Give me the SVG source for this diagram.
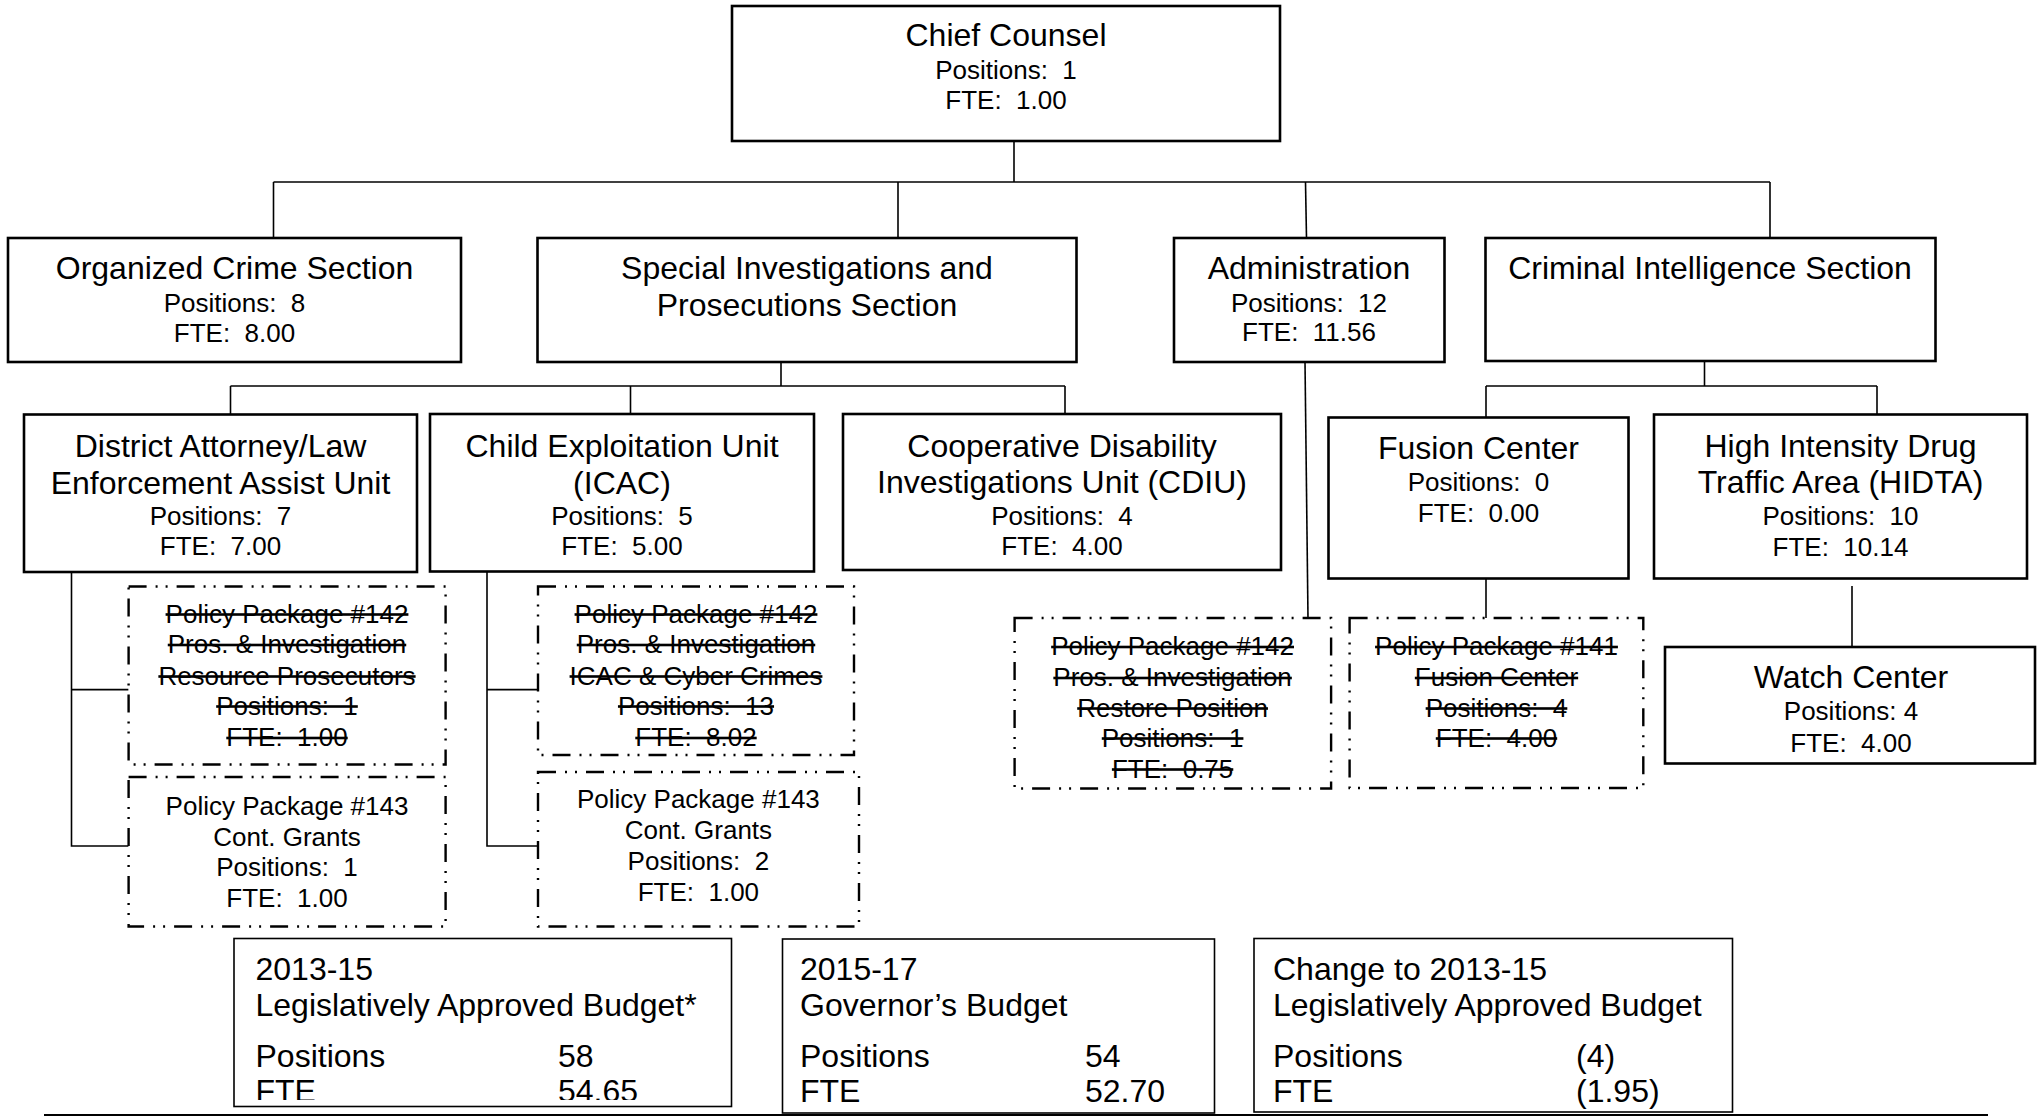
<svg xmlns="http://www.w3.org/2000/svg" width="2037" height="1117" viewBox="0 0 2037 1117" xml:space="preserve">
<style>
text { font-family: "Liberation Sans", Arial, sans-serif; fill: #000; white-space: pre; }
.t { font-size: 32px; text-anchor: middle; }
.d { font-size: 26px; text-anchor: middle; }
.s { text-decoration: line-through; }
.b { font-size: 32px; }
.box { fill: #fff; stroke: #000; stroke-width: 2.6; }
.dash { fill: #fff; stroke: #000; stroke-width: 2.4; stroke-dasharray: 18 9 2 8 2 9; }
.bud { fill: #fff; stroke: #000; stroke-width: 1.6; }
.conn line, .conn polyline { stroke: #000; stroke-width: 1.6; fill: none; }
</style>
<defs>
<clipPath id="clipB1"><rect x="234" y="938" width="498" height="162"/></clipPath>
</defs>
<rect x="0" y="0" width="2037" height="1117" fill="#fff"/>

<g id="connectors" class="conn">
<line x1="1014" y1="141" x2="1014" y2="182"/>
<line x1="273.5" y1="182" x2="1770" y2="182"/>
<line x1="273.5" y1="182" x2="273.5" y2="238"/>
<line x1="898" y1="182" x2="898" y2="238"/>
<line x1="1305.5" y1="182" x2="1306.5" y2="238"/>
<line x1="1770" y1="182" x2="1770" y2="238"/>
<line x1="781" y1="362" x2="781" y2="386"/>
<line x1="230.5" y1="386" x2="1065" y2="386"/>
<line x1="230.5" y1="386" x2="230.5" y2="414"/>
<line x1="630.5" y1="386" x2="630.5" y2="414"/>
<line x1="1065" y1="386" x2="1065" y2="414"/>
<line x1="1704.5" y1="361" x2="1704.5" y2="386"/>
<line x1="1486" y1="386" x2="1877" y2="386"/>
<line x1="1486" y1="386" x2="1486" y2="417"/>
<line x1="1877" y1="386" x2="1877" y2="414"/>
<line x1="1486" y1="578" x2="1486" y2="618"/>
<line x1="1852" y1="586" x2="1852" y2="647"/>
<line x1="1305" y1="362" x2="1308" y2="618"/>
<polyline points="71.5,572 71.5,846 128.6,846"/>
<line x1="71.5" y1="689.6" x2="128.6" y2="689.6"/>
<polyline points="487,572 487,846 538,846"/>
<line x1="487" y1="689.6" x2="538" y2="689.6"/>
</g>

<g id="chief-counsel">
<rect class="box" x="732" y="6" width="548" height="135"/>
<text class="t" x="1006" y="46">Chief Counsel</text>
<text class="d" x="1006" y="79">Positions:  1</text>
<text class="d" x="1006" y="109">FTE:  1.00</text>
</g>

<g id="organized-crime">
<rect class="box" x="8" y="238" width="453" height="124"/>
<text class="t" x="234.5" y="279">Organized Crime Section</text>
<text class="d" x="234.5" y="311.5">Positions:  8</text>
<text class="d" x="234.5" y="342">FTE:  8.00</text>
</g>

<g id="special-investigations">
<rect class="box" x="537.5" y="238" width="539" height="124"/>
<text class="t" x="807" y="279">Special Investigations and</text>
<text class="t" x="807" y="316">Prosecutions Section</text>
</g>

<g id="administration">
<rect class="box" x="1174" y="238" width="270.5" height="124"/>
<text class="t" x="1309" y="279">Administration</text>
<text class="d" x="1309" y="312">Positions:  12</text>
<text class="d" x="1309" y="341">FTE:  11.56</text>
</g>

<g id="criminal-intelligence">
<rect class="box" x="1485.5" y="238" width="450" height="123"/>
<text class="t" x="1710" y="279">Criminal Intelligence Section</text>
</g>

<g id="da-law-enforcement">
<rect class="box" x="24" y="414.5" width="393" height="157.5"/>
<text class="t" x="220.5" y="456.5">District Attorney/Law</text>
<text class="t" x="220.5" y="493.5">Enforcement Assist Unit</text>
<text class="d" x="220.5" y="524.5">Positions:  7</text>
<text class="d" x="220.5" y="555">FTE:  7.00</text>
</g>

<g id="child-exploitation">
<rect class="box" x="430" y="414" width="384" height="157.5"/>
<text class="t" x="622" y="456.5">Child Exploitation Unit</text>
<text class="t" x="622" y="493.5">(ICAC)</text>
<text class="d" x="622" y="524.5">Positions:  5</text>
<text class="d" x="622" y="555">FTE:  5.00</text>
</g>

<g id="cdiu">
<rect class="box" x="843" y="414" width="438" height="156"/>
<text class="t" x="1062" y="456.5">Cooperative Disability</text>
<text class="t" x="1062" y="493">Investigations Unit (CDIU)</text>
<text class="d" x="1062" y="524.5">Positions:  4</text>
<text class="d" x="1062" y="555">FTE:  4.00</text>
</g>

<g id="fusion-center">
<rect class="box" x="1328.5" y="417.5" width="300" height="161"/>
<text class="t" x="1478.5" y="459">Fusion Center</text>
<text class="d" x="1478.5" y="490.5">Positions:  0</text>
<text class="d" x="1478.5" y="521.5">FTE:  0.00</text>
</g>

<g id="hidta">
<rect class="box" x="1654" y="414.5" width="373" height="164"/>
<text class="t" x="1840.5" y="456.5">High Intensity Drug</text>
<text class="t" x="1840.5" y="493">Traffic Area (HIDTA)</text>
<text class="d" x="1840.5" y="524.5">Positions:  10</text>
<text class="d" x="1840.5" y="555.5">FTE:  10.14</text>
</g>

<g id="watch-center">
<rect class="box" x="1665" y="647" width="370" height="116.5"/>
<text class="t" x="1851" y="688">Watch Center</text>
<text class="d" x="1851" y="720">Positions: 4</text>
<text class="d" x="1851" y="751.5">FTE:  4.00</text>
</g>

<g id="da-pp142">
<rect class="dash" x="128.6" y="586.5" width="317" height="178"/>
<text class="d s" x="287" y="622.5">Policy Package #142</text>
<text class="d s" x="287" y="653">Pros. &amp; Investigation</text>
<text class="d s" x="287" y="684.5">Resource Prosecutors</text>
<text class="d s" x="287" y="714.5">Positions:  1</text>
<text class="d s" x="287" y="746">FTE:  1.00</text>
</g>

<g id="da-pp143">
<rect class="dash" x="128.6" y="777" width="317" height="149.5"/>
<text class="d" x="287" y="814.5">Policy Package #143</text>
<text class="d" x="287" y="845.5">Cont. Grants</text>
<text class="d" x="287" y="876">Positions:  1</text>
<text class="d" x="287" y="907">FTE:  1.00</text>
</g>

<g id="child-pp142">
<rect class="dash" x="538" y="586.5" width="316" height="168.5"/>
<text class="d s" x="696" y="622.5">Policy Package #142</text>
<text class="d s" x="696" y="653">Pros. &amp; Investigation</text>
<text class="d s" x="696" y="684.5">ICAC &amp; Cyber Crimes</text>
<text class="d s" x="696" y="714.5">Positions:  13</text>
<text class="d s" x="696" y="746">FTE:  8.02</text>
</g>

<g id="child-pp143">
<rect class="dash" x="538" y="772" width="321" height="154.5"/>
<text class="d" x="698.4" y="808">Policy Package #143</text>
<text class="d" x="698.4" y="839">Cont. Grants</text>
<text class="d" x="698.4" y="870">Positions:  2</text>
<text class="d" x="698.4" y="901">FTE:  1.00</text>
</g>

<g id="admin-pp142">
<rect class="dash" x="1014.6" y="618" width="316.5" height="170.5"/>
<text class="d s" x="1172.6" y="655">Policy Package #142</text>
<text class="d s" x="1172.6" y="686">Pros. &amp; Investigation</text>
<text class="d s" x="1172.6" y="716.5">Restore Position</text>
<text class="d s" x="1172.6" y="746.5">Positions:  1</text>
<text class="d s" x="1172.6" y="777.5">FTE:  0.75</text>
</g>

<g id="fusion-pp141">
<rect class="dash" x="1349.6" y="618" width="293.7" height="170"/>
<text class="d s" x="1496.5" y="655">Policy Package #141</text>
<text class="d s" x="1496.5" y="686">Fusion Center</text>
<text class="d s" x="1496.5" y="716.5">Positions:  4</text>
<text class="d s" x="1496.5" y="746.5">FTE:  4.00</text>
</g>

<g id="budget-2013-15">
<rect class="bud" x="234" y="938.5" width="497.5" height="168"/>
<g clip-path="url(#clipB1)">
<text class="b" x="255.5" y="980">2013-15</text>
<text class="b" x="255.5" y="1016">Legislatively Approved Budget*</text>
<text class="b" x="255.5" y="1067">Positions</text>
<text class="b" x="558" y="1067">58</text>
<text class="b" x="255.5" y="1101.5">FTE</text>
<text class="b" x="558" y="1101.5">54.65</text>
</g>
</g>

<g id="budget-2015-17">
<rect class="bud" x="782.5" y="939" width="432" height="174"/>
<text class="b" x="800" y="980">2015-17</text>
<text class="b" x="800" y="1016">Governor’s Budget</text>
<text class="b" x="800" y="1067">Positions</text>
<text class="b" x="1085" y="1067">54</text>
<text class="b" x="800" y="1101.5">FTE</text>
<text class="b" x="1085" y="1101.5">52.70</text>
</g>

<g id="budget-change">
<rect class="bud" x="1254" y="938.5" width="478.5" height="173.5"/>
<text class="b" x="1273" y="980">Change to 2013-15</text>
<text class="b" x="1273" y="1016">Legislatively Approved Budget</text>
<text class="b" x="1273" y="1067">Positions</text>
<text class="b" x="1576" y="1067">(4)</text>
<text class="b" x="1273" y="1101.5">FTE</text>
<text class="b" x="1576" y="1101.5">(1.95)</text>
</g>

<line x1="44" y1="1115" x2="1988" y2="1115" stroke="#000" stroke-width="2"/>
</svg>
